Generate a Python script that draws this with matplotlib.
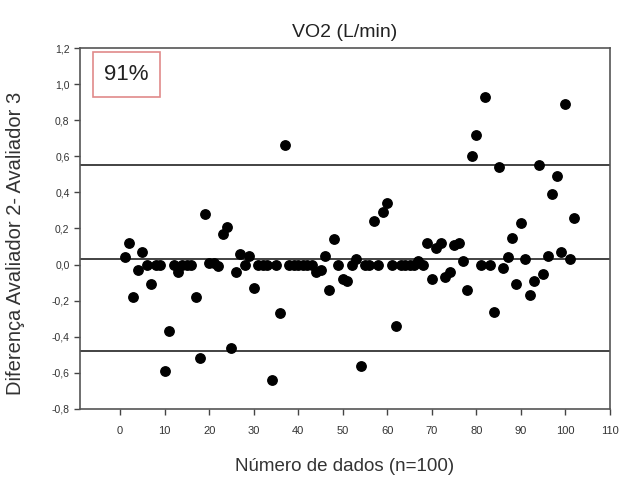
import numpy as np
import matplotlib
matplotlib.use('Agg')
import matplotlib.pyplot as plt
from matplotlib.patches import Rectangle

plt.rcParams['font.family'] = ['Liberation Sans', 'DejaVu Sans']

# dados (indice, diferenca)
n_dados = list(range(1, 103))
diferenca = [0.04, 0.12, -0.18, -0.03, 0.07, 0.00, -0.11, 0.00, 0.00, -0.59,
             -0.37, 0.00, -0.04, 0.00, 0.00, 0.00, -0.18, -0.52, 0.28, 0.01,
             0.01, -0.01, 0.17, 0.21, -0.46, -0.04, 0.06, 0.00, 0.05, -0.13,
             0.00, 0.00, 0.00, -0.64, 0.00, -0.27, 0.66, 0.00, 0.00, 0.00,
             0.00, 0.00, 0.00, -0.04, -0.03, 0.05, -0.14, 0.14, 0.00, -0.08,
             -0.09, 0.00, 0.03, -0.56, 0.00, 0.00, 0.24, 0.00, 0.29, 0.34,
             0.00, -0.34, 0.00, 0.00, 0.00, 0.00, 0.02, 0.00, 0.12, -0.08,
             0.09, 0.12, -0.07, -0.04, 0.11, 0.12, 0.02, -0.14, 0.60, 0.72,
             0.00, 0.93, 0.00, -0.26, 0.54, -0.02, 0.04, 0.15, -0.11, 0.23,
             0.03, -0.17, -0.09, 0.55, -0.05, 0.05, 0.39, 0.49, 0.07, 0.89,
             0.03, 0.26]

media = 0.03
lim_sup = 0.55
lim_inf = -0.48

fig = plt.figure(figsize=(6.25, 4.8), dpi=100)
ax = fig.add_axes([0.128, 0.148, 0.848, 0.752])

ax.scatter(n_dados, diferenca, s=46, color='black', zorder=3)
for v in (lim_sup, media, lim_inf):
    ax.axhline(v, color='#222222', linewidth=1.2, zorder=2)

ax.set_xlim(-9, 110)
ax.set_ylim(-0.8, 1.2)
ax.set_xticks(np.arange(0, 111, 10))
yt = np.round(np.arange(-0.8, 1.21, 0.2), 1)
ax.set_yticks(yt)
ax.set_yticklabels(['{:.1f}'.format(v + 0.0).replace('.', ',').replace('-0,0', '0,0') for v in yt])
ax.tick_params(direction='out', length=4, width=1, labelsize=7.5,
               colors='#444444', labelcolor='#333333')
ax.tick_params(axis='x', pad=8, labelsize=8)
for s in ax.spines.values():
    s.set_color('#555555')
    s.set_linewidth(1.2)

ax.set_title('VO2 (L/min)', fontsize=14, color='#222222', pad=8)
ax.set_xlabel('Número de dados (n=100)', fontsize=13.5, color='#333333', labelpad=16)
ax.set_ylabel('Diferença Avaliador 2- Avaliador 3', fontsize=14.5, color='#333333')
ax.yaxis.set_label_coords(-0.103, 0.46)

# caixa com a porcentagem
ax.add_patch(Rectangle((0.0245, 0.864), 0.127, 0.125, transform=ax.transAxes,
                       facecolor='white', edgecolor='#e08a8a', linewidth=1.2, zorder=4))
ax.text(0.088, 0.926, '91%', transform=ax.transAxes, fontsize=16,
        color='#222222', ha='center', va='center', zorder=5)

fig.savefig('out.png', dpi=100)
